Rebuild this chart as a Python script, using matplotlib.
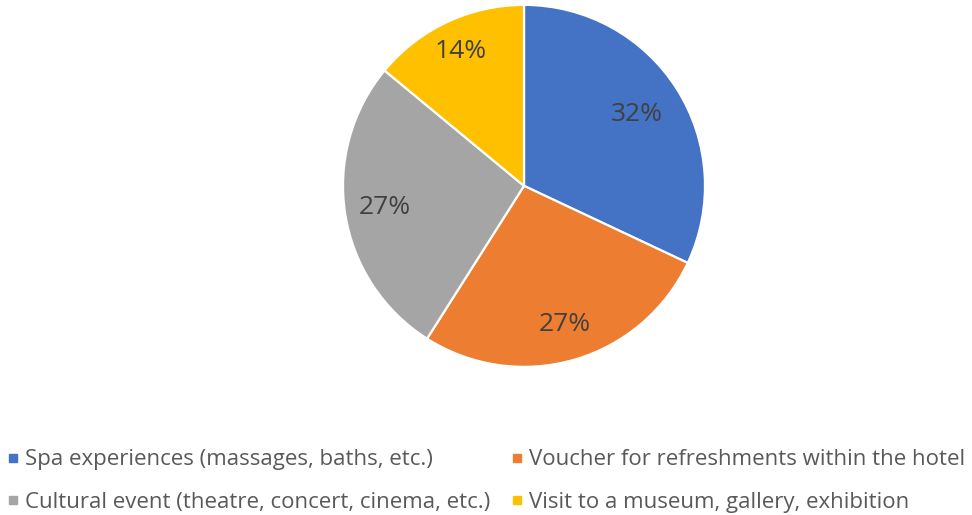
import matplotlib
matplotlib.use("Agg")
import matplotlib.pyplot as plt
from matplotlib.lines import Line2D
import numpy as np

categories = ["Spa experiences (massages, baths, etc.)",
              "Voucher for refreshments within the hotel",
              "Cultural event (theatre, concert, cinema, etc.)",
              "Visit to a museum, gallery, exhibition"]
values = [32, 27, 27, 14]
colors = ["#4472C4", "#ED7D31", "#A5A5A5", "#FFC000"]
label_dist = [0.74, 0.80, 0.78, 0.82]

plt.rcParams['font.family'] = ['Open Sans', 'DejaVu Sans']

fig = plt.figure(figsize=(9.72, 5.15), dpi=100)
ax = fig.add_axes([0.3529, 0.2876, 0.3724, 0.703])
wedges, _ = ax.pie(values, colors=colors, startangle=90, counterclock=False,
                   wedgeprops=dict(edgecolor="white", linewidth=1.6))
ax.set_xlim(-1, 1)
ax.set_ylim(-1, 1)
ax.set_aspect('equal')
ax.axis('off')

total = sum(values)
for w, v, d in zip(wedges, values, label_dist):
    ang = np.deg2rad((w.theta1 + w.theta2) / 2)
    ax.text(d * np.cos(ang), d * np.sin(ang), f"{round(100 * v / total)}%",
            ha='center', va='center', fontsize=19, color="#404040")

handles = [Line2D([], [], marker='s', linestyle='none', markersize=6,
                  markerfacecolor=c, markeredgecolor=c) for c in colors]
order = [0, 2, 1, 3]
fig.legend([handles[i] for i in order], [categories[i] for i in order],
           loc='center', bbox_to_anchor=(0.5, 0.066), ncol=2,
           frameon=False, fontsize=16, labelcolor="#595959",
           handlelength=0.6, handletextpad=0.25, columnspacing=0.9,
           labelspacing=0.95)

fig.savefig("out.png", dpi=100)
